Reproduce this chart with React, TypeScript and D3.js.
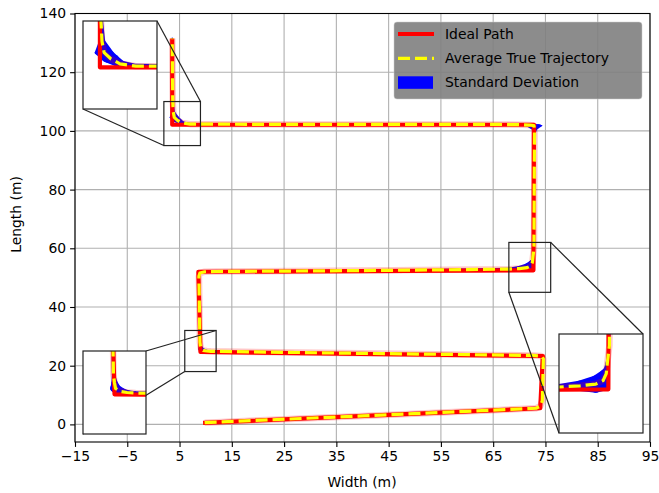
import React, { useRef, useEffect } from 'react';
import * as d3 from 'd3';

// axis ticks
const xTicks = [-15, -5, 5, 15, 25, 35, 45, 55, 65, 75, 85, 95];
const yTicks = [0, 20, 40, 60, 80, 100, 120, 140];

// ideal path waypoints (m)
const idealX = [9.5, 74.0, 74.5, 9.0, 8.6, 72.7, 72.8, 3.6, 3.6];
const idealY = [0.5, 5.5, 23.3, 24.7, 52.0, 52.5, 102.1, 102.1, 131.5];

// average true trajectory (m)
const avgX = [9.8, 40, 73.2, 74.0, 74.4, 74.6, 74.2, 72.5, 40, 11, 10.2, 9.5, 9.1, 9.0, 8.9, 8.7, 8.9, 9.8, 12, 40,
  68, 70, 71.5, 72.2, 72.5, 72.6, 72.8, 72.9, 72.9, 72.8, 72.0, 70.5, 66, 30, 7.0, 5.5, 4.6, 4.0, 3.8, 3.7, 3.6];
const avgY = [0.6, 2.9, 5.5, 6.2, 8.0, 22.3, 23.3, 23.5, 24.2, 24.9, 25.0, 25.2, 25.7, 26.6, 28.0, 50.5, 51.6, 52.0, 52.1, 52.4,
  52.9, 53.1, 53.4, 54.0, 55.2, 57.0, 60.0, 99.0, 100.6, 101.8, 102.0, 102.1, 102.2, 102.2, 102.3, 102.7, 103.6, 104.6, 106.5, 110, 131.5];

// standard deviation along the trajectory (m)
const stdX = [0.1, 0.1, 0.1, 0.15, 0.15, 0.15, 0.15, 0.1, 0.1, 0.1, 0.4, 0.6, 0.5, 0.3, 0.15, 0.15, 0.2, 0.2, 0.1, 0.1,
  0.3, 0.5, 0.6, 0.5, 0.3, 0.15, 0.1, 0.15, 0.5, 1.6, 1.0, 0.5, 0.1, 0.1, 0.2, 0.5, 0.8, 0.9, 0.3, 0.2, 0.15];
const stdY = [0.2, 0.2, 0.2, 0.3, 0.3, 0.3, 0.3, 0.2, 0.2, 0.3, 0.4, 0.6, 0.7, 0.5, 0.3, 0.3, 0.4, 0.3, 0.2, 0.2,
  0.5, 0.9, 1.5, 1.8, 1.2, 0.5, 0.3, 0.4, 0.4, 0.5, 0.4, 0.3, 0.2, 0.2, 0.4, 0.6, 0.8, 0.5, 0.4, 0.3, 0.3];

// zoomed regions
const insetXDomains = [[2, 9], [68, 76], [6, 12]];
const insetYDomains = [[95, 110], [45, 62], [18, 32]];

const legendLabels = ['Ideal Path', 'Average True Trajectory', 'Standard Deviation'];

const W = 659;
const H = 493;
const margin = { top: 13.5, right: 9, bottom: 51, left: 75 };
const insetBoxes = [
  { x: 83, y: 21, w: 74, h: 88 },
  { x: 559, y: 334, w: 84, h: 99 },
  { x: 83, y: 351, w: 63, h: 83 },
];

function drawTracks(g, xs, ys) {
  const ell = (i) => d3.range(24).map((k) => {
    const a = (k / 24) * 2 * Math.PI;
    const rx = Math.abs(xs(stdX[i]) - xs(0));
    const ry = Math.abs(ys(stdY[i]) - ys(0));
    return [xs(avgX[i]) + rx * Math.cos(a), ys(avgY[i]) + ry * Math.sin(a)];
  });
  const band = g.append('g').attr('fill', '#0000ff');
  for (let i = 0; i < avgX.length - 1; i++) {
    const hull = d3.polygonHull([...ell(i), ...ell(i + 1)]);
    band.append('path').attr('d', 'M' + hull.join('L') + 'Z');
  }

  const line = d3.line().x((d) => xs(d[0])).y((d) => ys(d[1]));
  const avg = avgX.map((x, i) => [x, avgY[i]]);
  const ideal = idealX.map((x, i) => [x, idealY[i]]);

  g.append('path').attr('d', line(avg)).attr('fill', 'none')
    .attr('stroke', '#ff0000').attr('stroke-opacity', 0.22).attr('stroke-width', 6.5)
    .attr('stroke-linejoin', 'round');
  g.append('path').attr('d', line(ideal)).attr('fill', 'none')
    .attr('stroke', '#ff0000').attr('stroke-width', 4.2).attr('stroke-linejoin', 'round');
  g.append('path').attr('d', line(avg)).attr('fill', 'none')
    .attr('stroke', '#ffff00').attr('stroke-width', 3.2).attr('stroke-dasharray', '12,5')
    .attr('stroke-linejoin', 'round');
}

function App() {
  const svgRef = useRef();

  useEffect(() => {
    const svg = d3.select(svgRef.current);
    svg.selectAll('*').remove();
    const font = 'DejaVu Sans, sans-serif';

    const x = d3.scaleLinear().domain([-15, 95]).range([margin.left, W - margin.right]);
    const y = d3.scaleLinear().domain([-6, 140]).range([H - margin.bottom, margin.top]);

    svg.append('rect').attr('width', W).attr('height', H).attr('fill', '#fff');

    // grid
    const grid = svg.append('g').attr('stroke', '#b0b0b0').attr('stroke-width', 1.1);
    grid.selectAll('.gx').data(xTicks).join('line')
      .attr('x1', (d) => x(d)).attr('x2', (d) => x(d))
      .attr('y1', y.range()[0]).attr('y2', y.range()[1]);
    grid.selectAll('.gy').data(yTicks).join('line')
      .attr('y1', (d) => y(d)).attr('y2', (d) => y(d))
      .attr('x1', x.range()[0]).attr('x2', x.range()[1]);

    drawTracks(svg.append('g'), x, y);

    // axes
    const ax = svg.append('g').attr('transform', `translate(0,${y.range()[0]})`)
      .call(d3.axisBottom(x).tickValues(xTicks).tickSize(4.9).tickPadding(4).tickFormat(d3.format('d')));
    const ay = svg.append('g').attr('transform', `translate(${x.range()[0]},0)`)
      .call(d3.axisLeft(y).tickValues(yTicks).tickSize(4.9).tickPadding(4).tickFormat(d3.format('d')));
    [ax, ay].forEach((a) => {
      a.selectAll('text').attr('font-family', font).attr('font-size', 13.9).attr('fill', '#000');
      a.selectAll('line').attr('stroke', '#000').attr('stroke-width', 1.1);
      a.select('.domain').remove();
    });
    svg.append('rect')
      .attr('x', x.range()[0]).attr('y', y.range()[1])
      .attr('width', x.range()[1] - x.range()[0]).attr('height', y.range()[0] - y.range()[1])
      .attr('fill', 'none').attr('stroke', '#000').attr('stroke-width', 1.1);

    svg.append('text').attr('x', 362).attr('y', 487).attr('text-anchor', 'middle')
      .attr('font-family', font).attr('font-size', 13.9).text('Width (m)');
    svg.append('text').attr('transform', 'translate(21,214.5) rotate(-90)').attr('text-anchor', 'middle')
      .attr('font-family', font).attr('font-size', 13.9).text('Length (m)');

    // insets
    const defs = svg.append('defs');
    insetBoxes.forEach((b, i) => {
      const [x0, x1] = insetXDomains[i];
      const [y0, y1] = insetYDomains[i];
      const rx0 = x(x0), rx1 = x(x1), ry0 = y(y0), ry1 = y(y1);
      svg.append('rect').attr('x', rx0).attr('y', ry1).attr('width', rx1 - rx0).attr('height', ry0 - ry1)
        .attr('fill', 'none').attr('stroke', '#222').attr('stroke-width', 1.2);
      // connectors: upper right and lower left corners
      svg.append('line').attr('x1', rx1).attr('y1', ry1).attr('x2', b.x + b.w).attr('y2', b.y)
        .attr('stroke', '#222').attr('stroke-width', 1.2);
      svg.append('line').attr('x1', rx0).attr('y1', ry0).attr('x2', b.x).attr('y2', b.y + b.h)
        .attr('stroke', '#222').attr('stroke-width', 1.2);

      const ix = d3.scaleLinear().domain([x0, x1]).range([b.x, b.x + b.w]);
      const iy = d3.scaleLinear().domain([y0, y1]).range([b.y + b.h, b.y]);
      const cid = `inset-clip-${i}`;
      defs.append('clipPath').attr('id', cid).append('rect')
        .attr('x', b.x).attr('y', b.y).attr('width', b.w).attr('height', b.h);
      svg.append('rect').attr('x', b.x).attr('y', b.y).attr('width', b.w).attr('height', b.h).attr('fill', '#fff');
      drawTracks(svg.append('g').attr('clip-path', `url(#${cid})`), ix, iy);
      svg.append('rect').attr('x', b.x).attr('y', b.y).attr('width', b.w).attr('height', b.h)
        .attr('fill', 'none').attr('stroke', '#222').attr('stroke-width', 1.2);
    });

    // legend
    const lg = svg.append('g');
    lg.append('rect').attr('x', 394).attr('y', 22).attr('width', 248).attr('height', 77).attr('rx', 3)
      .attr('fill', '#808080').attr('fill-opacity', 0.9).attr('stroke', '#ccc').attr('stroke-opacity', 0.5);
    const rowY = [34, 58.3, 82.3];
    lg.append('line').attr('x1', 398).attr('x2', 434).attr('y1', rowY[0]).attr('y2', rowY[0])
      .attr('stroke', '#ff0000').attr('stroke-width', 4.2);
    lg.append('line').attr('x1', 398).attr('x2', 434).attr('y1', rowY[1]).attr('y2', rowY[1])
      .attr('stroke', '#ffff00').attr('stroke-width', 3.2).attr('stroke-dasharray', '12,5');
    lg.append('rect').attr('x', 398).attr('y', rowY[2] - 6).attr('width', 35).attr('height', 12.5)
      .attr('fill', '#0000ff');
    lg.selectAll('.lt').data(legendLabels).join('text')
      .attr('x', 445).attr('y', (d, i) => rowY[i] + 5)
      .attr('font-family', font).attr('font-size', 13.9).attr('fill', '#000')
      .text((d) => d);
  }, []);

  return (
    <svg ref={svgRef} width={W} height={H}
      style={{ position: 'absolute', left: 0, top: 0, display: 'block' }} />
  );
}

export default App;
